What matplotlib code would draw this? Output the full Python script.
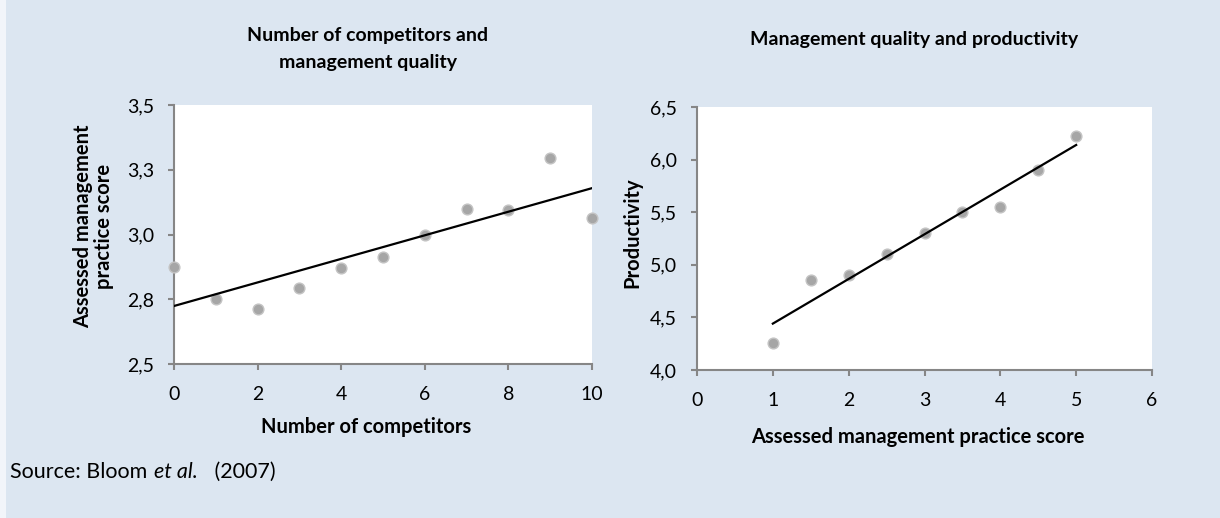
import numpy as np
import matplotlib
matplotlib.use("Agg")
import matplotlib.pyplot as plt
from matplotlib.patches import Rectangle

# ---- data ----
competitors = [0, 1, 2, 3, 4, 5, 6, 7, 8, 9, 10]
mgmt_score = [2.875, 2.75, 2.713, 2.794, 2.869, 2.913, 3.0, 3.10, 3.095, 3.294, 3.063]

mgmt_practice = [1, 1.5, 2, 2.5, 3, 3.5, 4, 4.5, 5]
productivity = [4.254, 4.852, 4.906, 5.106, 5.305, 5.505, 5.553, 5.901, 6.228]

left_yticks = [2.5, 2.75, 3.0, 3.25, 3.5]
left_ylabels = ["2,5", "2,8", "3,0", "3,3", "3,5"]
left_xticks = [0, 2, 4, 6, 8, 10]
right_yticks = [4.0, 4.5, 5.0, 5.5, 6.0, 6.5]
right_ylabels = ["4,0", "4,5", "5,0", "5,5", "6,0", "6,5"]
right_xticks = [0, 1, 2, 3, 4, 5, 6]

BG = "#dce6f1"
SPINE = "#868686"
MARK = "#a6a6a6"
FONT = "Lato"

plt.rcParams["font.family"] = [FONT, "DejaVu Sans"]

W, H = 1220, 518
fig = plt.figure(figsize=(W / 100, H / 100), dpi=100)
fig.patch.set_facecolor(BG)
fig.patches.append(Rectangle((0, 0), 6 / W, 1, transform=fig.transFigure,
                             facecolor="#f2f5fa", edgecolor="none", zorder=0))


def px(x, y):
    return x / W, 1 - y / H


def axes_px(l, t, r, b):
    return fig.add_axes([l / W, 1 - b / H, (r - l) / W, (b - t) / H])


def style(ax):
    ax.set_facecolor("white")
    for s in ["top", "right"]:
        ax.spines[s].set_visible(False)
    for s in ["left", "bottom"]:
        ax.spines[s].set_color(SPINE)
        ax.spines[s].set_linewidth(1.5)
    ax.tick_params(direction="out", length=4.5, width=1.5, color=SPINE,
                   labelsize=14, labelcolor="black")
    ax.tick_params(axis="y", pad=10)
    ax.tick_params(axis="x", pad=11)


# ---- left panel ----
ax1 = axes_px(174, 105, 592, 364)
style(ax1)
ax1.scatter(competitors, mgmt_score, s=60, color=MARK, edgecolors="#c4c4c4",
            linewidths=1, zorder=3, clip_on=False)
c1 = np.polyfit(competitors, mgmt_score, 1)
xs1 = np.array([min(competitors), max(competitors)])
ax1.plot(xs1, np.polyval(c1, xs1), color="black", lw=1.6, zorder=4)
ax1.set_xlim(0, 10)
ax1.set_ylim(2.5, 3.5)
ax1.set_yticks(left_yticks)
ax1.set_yticklabels(left_ylabels)
ax1.set_xticks(left_xticks)

# ---- right panel ----
ax2 = axes_px(697, 107, 1152, 370)
style(ax2)
ax2.scatter(mgmt_practice, productivity, s=60, color=MARK, edgecolors="#c4c4c4",
            linewidths=1, zorder=3, clip_on=False)
c2 = np.polyfit(mgmt_practice, productivity, 1)
xs2 = np.array([min(mgmt_practice), max(mgmt_practice)])
ax2.plot(xs2, np.polyval(c2, xs2), color="black", lw=1.6, zorder=4)
ax2.set_xlim(0, 6)
ax2.set_ylim(4.0, 6.5)
ax2.set_yticks(right_yticks)
ax2.set_yticklabels(right_ylabels)
ax2.set_xticks(right_xticks)

# ---- texts ----
fig.text(*px(368, 49), "Number of competitors and\nmanagement quality",
         ha="center", va="center", fontsize=14, fontweight="bold",
         linespacing=1.75)
fig.text(*px(914, 39), "Management quality and productivity",
         ha="center", va="center", fontsize=14, fontweight="bold")

fig.text(*px(94, 226), "Assessed management\npractice score", rotation=90,
         ha="center", va="center", fontsize=14.5, fontweight="bold",
         linespacing=1.05)
fig.text(*px(632, 233), "Productivity", rotation=90,
         ha="center", va="center", fontsize=14.5, fontweight="bold")

fig.text(*px(366, 427), "Number of competitors", ha="center", va="center",
         fontsize=14.5, fontweight="bold")
fig.text(*px(918, 437), "Assessed management practice score", ha="center",
         va="center", fontsize=14.5, fontweight="bold")

# source line: regular + italic + regular pieces
renderer = fig.canvas.get_renderer()
x0 = 10
pieces = [("Source: Bloom ", "normal"), ("et al.", "italic"), ("   (2007)", "normal")]
for txt, st in pieces:
    t = fig.text(x0 / W, 1 - 472 / H, txt, ha="left", va="center",
                 fontsize=15.5, fontstyle=st)
    bb = t.get_window_extent(renderer=renderer)
    x0 = bb.x1 + 1

fig.savefig("out.png", dpi=100, facecolor=fig.get_facecolor())
